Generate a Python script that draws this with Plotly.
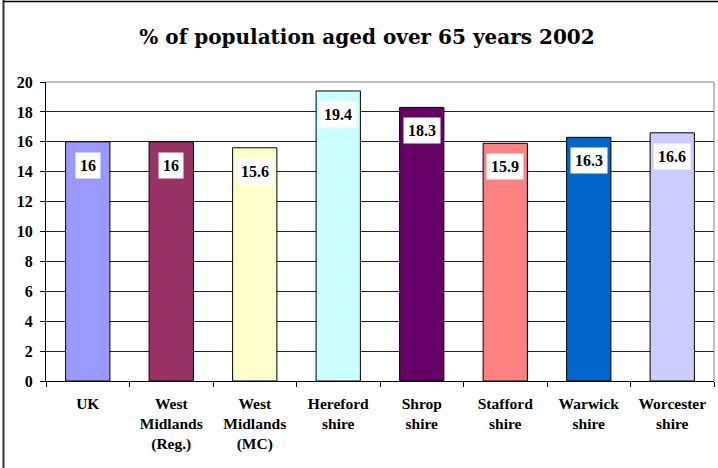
import plotly.graph_objects as go

categories = ["UK", "West<br>Midlands<br>(Reg.)", "West<br>Midlands<br>(MC)", "Hereford<br>shire",
              "Shrop<br>shire", "Stafford<br>shire", "Warwick<br>shire", "Worcester<br>shire"]
values = [16, 16, 15.6, 19.4, 18.3, 15.9, 16.3, 16.6]
labels = ["16", "16", "15.6", "19.4", "18.3", "15.9", "16.3", "16.6"]
colors = ["#9999FF", "#993366", "#FFFFCC", "#CCFFFF", "#660066", "#FF8080", "#0066CC", "#CCCCFF"]
y_ticks = [0, 2, 4, 6, 8, 10, 12, 14, 16, 18, 20]

TFONT = "DejaVu Serif"
FONT = "Liberation Serif"

fig = go.Figure(go.Bar(
    x=categories, y=values,
    marker=dict(color=colors, line=dict(color="black", width=1)),
    hoverinfo="skip",
))

for c, v, t in zip(categories, values, labels):
    fig.add_annotation(x=c, y=v, text=t, showarrow=False,
                       yanchor="top", yshift=-10, bgcolor="white", borderpad=4,
                       font=dict(family=FONT, size=16, color="black", weight="bold"))

fig.update_layout(
    width=718, height=468,
    margin=dict(l=46, r=4, t=82, b=87),
    paper_bgcolor="white", plot_bgcolor="white",
    bargap=0.47,
    showlegend=False,
    title=dict(text="% of population aged over 65 years 2002", x=367 / 718, xref="container",
               xanchor="center", y=1 - 37 / 468, yanchor="middle",
               font=dict(family=TFONT, size=20, color="black", weight="bold")),
    font=dict(family=FONT, color="black"),
    xaxis=dict(showline=True, linecolor="black", linewidth=1, ticks="outside",
               tickson="boundaries", ticklen=5, tickcolor="black", tickangle=0,
               ticklabelstandoff=8,
               tickfont=dict(family=FONT, size=15.5, color="black", weight="bold"), showgrid=False),
    yaxis=dict(range=[0, 20], tickvals=y_ticks, showline=True, linecolor="black",
               linewidth=1, ticks="outside", ticklen=5, tickcolor="black",
               showgrid=True, gridcolor="#222222", gridwidth=1, zeroline=False,
               ticklabelstandoff=4,
               tickfont=dict(family=FONT, size=16, color="black", weight="bold")),
    shapes=[
        dict(type="line", xref="paper", yref="paper", x0=0, x1=1, y0=1, y1=1,
             line=dict(color="#808080", width=1)),
        dict(type="line", xref="paper", yref="paper", x0=1, x1=1, y0=0, y1=1,
             line=dict(color="#808080", width=1)),
        dict(type="line", xref="paper", yref="paper", x0=-42.5 / 668, x1=-42.5 / 668,
             y0=-87 / 299, y1=1 + 82 / 299, line=dict(color="#333333", width=2)),
        dict(type="line", xref="paper", yref="paper", x0=-42.5 / 668, x1=1 + 4 / 668,
             y0=1 + 80.5 / 299, y1=1 + 80.5 / 299, line=dict(color="black", width=1.5)),
    ],
)

fig.write_html("out.html")
